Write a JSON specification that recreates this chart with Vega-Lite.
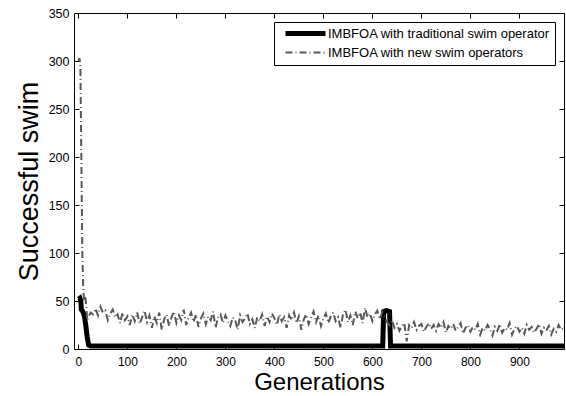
{
  "$schema": "https://vega.github.io/schema/vega-lite/v6.json",
  "width": 490,
  "height": 336,
  "autosize": "none",
  "padding": {"left": 74, "top": 13, "right": 2, "bottom": 47},
  "background": "white",
  "config": {
    "view": {"stroke": "black", "strokeWidth": 1},
    "font": "Liberation Sans",
    "axis": {"grid": false, "domain": false, "tickColor": "black", "labelColor": "black", "labelFont": "Liberation Sans", "labelFontSize": 12.5, "titleFont": "Liberation Sans", "titleFontWeight": "normal", "titleColor": "black", "titleFontSize": 26, "tickSize": -5}
  },
  "datasets": {
    "trad": [
      {"gen": 0, "val": 52, "series": "IMBFOA with traditional swim operator"},
      {"gen": 3, "val": 53, "series": "IMBFOA with traditional swim operator"},
      {"gen": 5, "val": 50, "series": "IMBFOA with traditional swim operator"},
      {"gen": 6, "val": 41, "series": "IMBFOA with traditional swim operator"},
      {"gen": 9, "val": 39, "series": "IMBFOA with traditional swim operator"},
      {"gen": 12, "val": 35, "series": "IMBFOA with traditional swim operator"},
      {"gen": 15, "val": 25, "series": "IMBFOA with traditional swim operator"},
      {"gen": 18, "val": 12, "series": "IMBFOA with traditional swim operator"},
      {"gen": 21, "val": 4, "series": "IMBFOA with traditional swim operator"},
      {"gen": 25, "val": 3, "series": "IMBFOA with traditional swim operator"},
      {"gen": 621, "val": 3, "series": "IMBFOA with traditional swim operator"},
      {"gen": 623, "val": 39, "series": "IMBFOA with traditional swim operator"},
      {"gen": 628, "val": 40, "series": "IMBFOA with traditional swim operator"},
      {"gen": 635, "val": 39, "series": "IMBFOA with traditional swim operator"},
      {"gen": 637, "val": 3, "series": "IMBFOA with traditional swim operator"},
      {"gen": 995, "val": 3, "series": "IMBFOA with traditional swim operator"}
    ],
    "newop": [
      {"gen": 0, "val": 300}, {"gen": 2, "val": 303}, {"gen": 4, "val": 297}, {"gen": 6, "val": 200}, {"gen": 8, "val": 100}, {"gen": 10, "val": 60}, {"gen": 12, "val": 50}, {"gen": 14, "val": 55}, {"gen": 16, "val": 45}, {"gen": 18, "val": 30},
      {"gen": 20, "val": 33}, {"gen": 25, "val": 38}, {"gen": 30, "val": 36}, {"gen": 35, "val": 42}, {"gen": 40, "val": 35}, {"gen": 45, "val": 44}, {"gen": 50, "val": 38}, {"gen": 55, "val": 40}, {"gen": 60, "val": 30}, {"gen": 65, "val": 37},
      {"gen": 70, "val": 41}, {"gen": 75, "val": 33}, {"gen": 80, "val": 36}, {"gen": 85, "val": 27}, {"gen": 90, "val": 38}, {"gen": 95, "val": 30}, {"gen": 100, "val": 34}, {"gen": 105, "val": 25}, {"gen": 110, "val": 36}, {"gen": 115, "val": 29},
      {"gen": 120, "val": 38}, {"gen": 125, "val": 26}, {"gen": 130, "val": 33}, {"gen": 135, "val": 40}, {"gen": 140, "val": 28}, {"gen": 145, "val": 35}, {"gen": 150, "val": 22}, {"gen": 155, "val": 34}, {"gen": 160, "val": 27}, {"gen": 165, "val": 38},
      {"gen": 170, "val": 20}, {"gen": 175, "val": 31}, {"gen": 180, "val": 36}, {"gen": 185, "val": 24}, {"gen": 190, "val": 33}, {"gen": 195, "val": 39}, {"gen": 200, "val": 27}, {"gen": 205, "val": 35}, {"gen": 210, "val": 30}, {"gen": 215, "val": 41},
      {"gen": 220, "val": 25}, {"gen": 225, "val": 33}, {"gen": 230, "val": 38}, {"gen": 235, "val": 28}, {"gen": 240, "val": 36}, {"gen": 245, "val": 23}, {"gen": 250, "val": 32}, {"gen": 255, "val": 37}, {"gen": 260, "val": 26}, {"gen": 265, "val": 34},
      {"gen": 270, "val": 30}, {"gen": 275, "val": 39}, {"gen": 280, "val": 22}, {"gen": 285, "val": 33}, {"gen": 290, "val": 36}, {"gen": 295, "val": 27}, {"gen": 300, "val": 35}, {"gen": 305, "val": 29}, {"gen": 310, "val": 24}, {"gen": 315, "val": 33},
      {"gen": 320, "val": 30}, {"gen": 325, "val": 20}, {"gen": 330, "val": 35}, {"gen": 335, "val": 28}, {"gen": 340, "val": 32}, {"gen": 345, "val": 37}, {"gen": 350, "val": 26}, {"gen": 355, "val": 31}, {"gen": 360, "val": 22}, {"gen": 365, "val": 33},
      {"gen": 370, "val": 29}, {"gen": 375, "val": 36}, {"gen": 380, "val": 24}, {"gen": 385, "val": 34}, {"gen": 390, "val": 28}, {"gen": 395, "val": 37}, {"gen": 400, "val": 32}, {"gen": 405, "val": 25}, {"gen": 410, "val": 36}, {"gen": 415, "val": 29},
      {"gen": 420, "val": 33}, {"gen": 425, "val": 22}, {"gen": 430, "val": 35}, {"gen": 435, "val": 30}, {"gen": 440, "val": 38}, {"gen": 445, "val": 27}, {"gen": 450, "val": 34}, {"gen": 455, "val": 20}, {"gen": 460, "val": 31}, {"gen": 465, "val": 36},
      {"gen": 470, "val": 26}, {"gen": 475, "val": 33}, {"gen": 480, "val": 39}, {"gen": 485, "val": 28}, {"gen": 490, "val": 35}, {"gen": 495, "val": 24}, {"gen": 500, "val": 32}, {"gen": 505, "val": 37}, {"gen": 510, "val": 27}, {"gen": 515, "val": 34},
      {"gen": 520, "val": 38}, {"gen": 525, "val": 29}, {"gen": 530, "val": 33}, {"gen": 535, "val": 22}, {"gen": 540, "val": 36}, {"gen": 545, "val": 41}, {"gen": 550, "val": 28}, {"gen": 555, "val": 35}, {"gen": 560, "val": 25}, {"gen": 565, "val": 39},
      {"gen": 570, "val": 32}, {"gen": 575, "val": 38}, {"gen": 580, "val": 27}, {"gen": 585, "val": 43}, {"gen": 590, "val": 33}, {"gen": 595, "val": 37}, {"gen": 600, "val": 29}, {"gen": 605, "val": 36}, {"gen": 610, "val": 40}, {"gen": 615, "val": 31},
      {"gen": 620, "val": 38}, {"gen": 625, "val": 34}, {"gen": 630, "val": 28}, {"gen": 635, "val": 25}, {"gen": 640, "val": 30}, {"gen": 645, "val": 22}, {"gen": 650, "val": 26}, {"gen": 655, "val": 19}, {"gen": 660, "val": 24}, {"gen": 665, "val": 27},
      {"gen": 670, "val": 8}, {"gen": 675, "val": 25}, {"gen": 680, "val": 22}, {"gen": 685, "val": 28}, {"gen": 690, "val": 20}, {"gen": 695, "val": 24}, {"gen": 700, "val": 26}, {"gen": 705, "val": 18}, {"gen": 710, "val": 23}, {"gen": 715, "val": 27},
      {"gen": 720, "val": 21}, {"gen": 725, "val": 25}, {"gen": 730, "val": 19}, {"gen": 735, "val": 26}, {"gen": 740, "val": 22}, {"gen": 745, "val": 28}, {"gen": 750, "val": 17}, {"gen": 755, "val": 24}, {"gen": 760, "val": 21}, {"gen": 765, "val": 26},
      {"gen": 770, "val": 19}, {"gen": 775, "val": 23}, {"gen": 780, "val": 27}, {"gen": 785, "val": 16}, {"gen": 790, "val": 22}, {"gen": 795, "val": 25}, {"gen": 800, "val": 18}, {"gen": 805, "val": 23}, {"gen": 810, "val": 20}, {"gen": 815, "val": 26},
      {"gen": 820, "val": 15}, {"gen": 825, "val": 22}, {"gen": 830, "val": 19}, {"gen": 835, "val": 25}, {"gen": 840, "val": 21}, {"gen": 845, "val": 14}, {"gen": 850, "val": 23}, {"gen": 855, "val": 19}, {"gen": 860, "val": 26}, {"gen": 865, "val": 17},
      {"gen": 870, "val": 22}, {"gen": 875, "val": 20}, {"gen": 880, "val": 27}, {"gen": 885, "val": 15}, {"gen": 890, "val": 21}, {"gen": 895, "val": 24}, {"gen": 900, "val": 18}, {"gen": 905, "val": 22}, {"gen": 910, "val": 16}, {"gen": 915, "val": 25},
      {"gen": 920, "val": 20}, {"gen": 925, "val": 23}, {"gen": 930, "val": 17}, {"gen": 935, "val": 21}, {"gen": 940, "val": 26}, {"gen": 945, "val": 16}, {"gen": 950, "val": 22}, {"gen": 955, "val": 19}, {"gen": 960, "val": 24}, {"gen": 965, "val": 15},
      {"gen": 970, "val": 21}, {"gen": 975, "val": 18}, {"gen": 980, "val": 25}, {"gen": 985, "val": 20}, {"gen": 990, "val": 22}, {"gen": 995, "val": 19}
    ]
  },
  "encoding": {
    "color": {
      "field": "series", "type": "nominal",
      "scale": {"domain": ["IMBFOA with traditional swim operator", "IMBFOA with new swim operators"], "range": ["#000000", "#585858"]},
      "legend": {"title": null, "orient": "none", "legendX": 200, "legendY": 9, "strokeColor": "black", "fillColor": "white", "padding": 5, "symbolOffset": 4, "symbolType": "M-1,0H9", "symbolSize": 64, "labelFontSize": 13, "labelFont": "Liberation Sans", "labelColor": "black", "labelOffset": 32, "rowPadding": 2, "cornerRadius": 0, "labelLimit": 400}
    },
    "strokeDash": {
      "field": "series", "type": "nominal",
      "scale": {"domain": ["IMBFOA with traditional swim operator", "IMBFOA with new swim operators"], "range": [[1, 0], [7, 3, 1, 3]]},
      "legend": {"title": null}
    },
    "strokeWidth": {
      "field": "series", "type": "nominal",
      "scale": {"domain": ["IMBFOA with traditional swim operator", "IMBFOA with new swim operators"], "range": [5, 2]},
      "legend": {"title": null}
    }
  },
  "layer": [
    {
      "data": {"name": "trad"},
      "mark": {"type": "line", "clip": true},
      "encoding": {
        "x": {"field": "gen", "type": "quantitative", "scale": {"domain": [-9, 991], "nice": false, "zero": false},
              "axis": {"orient": "bottom", "values": [0, 100, 200, 300, 400, 500, 600, 700, 800, 900], "title": "Generations", "labelFontSize": 12, "labelPadding": 12, "titleFontSize": 24, "titlePadding": 3}},
        "y": {"field": "val", "type": "quantitative", "scale": {"domain": [0, 350], "nice": false},
              "axis": {"orient": "left", "values": [0, 50, 100, 150, 200, 250, 300, 350], "title": "Successful swim", "titleFontSize": 27, "labelPadding": 10, "titlePadding": 5}}
      }
    },
    {
      "data": {"name": "newop"},
      "transform": [{"calculate": "'IMBFOA with new swim operators'", "as": "series"}],
      "mark": {"type": "line", "clip": true},
      "encoding": {
        "x": {"field": "gen", "type": "quantitative", "axis": {"orient": "top", "values": [0, 100, 200, 300, 400, 500, 600, 700, 800, 900], "labels": false, "title": null}},
        "y": {"field": "val", "type": "quantitative", "axis": {"orient": "right", "values": [0, 50, 100, 150, 200, 250, 300, 350], "labels": false, "title": null}}
      }
    }
  ],
  "resolve": {"axis": {"x": "independent", "y": "independent"}}
}
